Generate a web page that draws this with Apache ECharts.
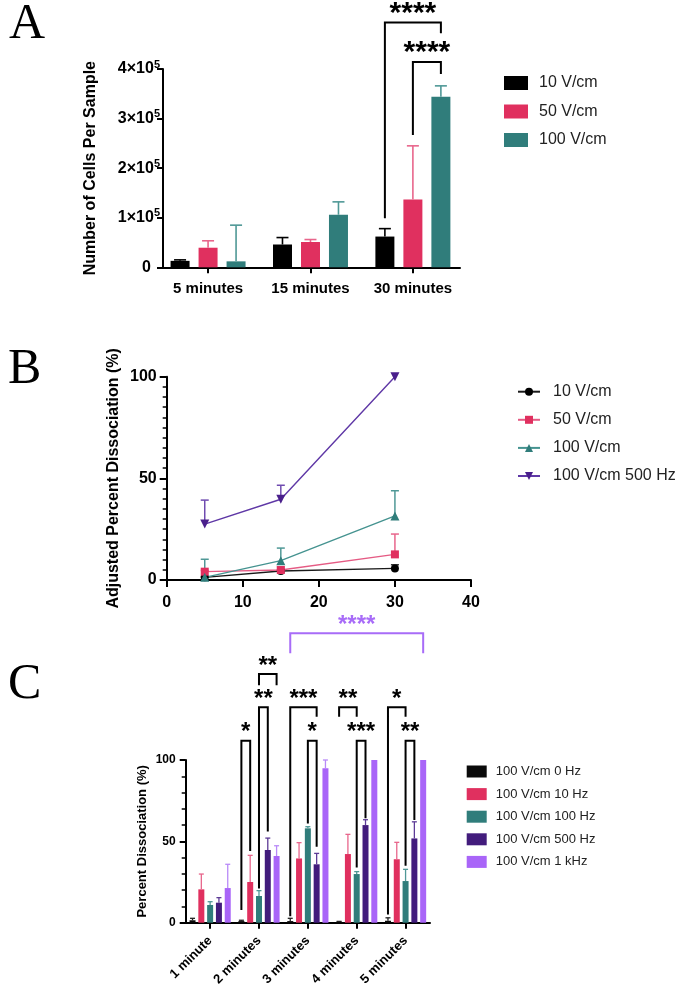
<!DOCTYPE html>
<html><head><meta charset="utf-8">
<script src="https://cdn.jsdelivr.net/npm/echarts@6/dist/echarts.min.js"></script>
<style>html,body{margin:0;padding:0;background:#fff}#c{width:685px;height:985px}</style>
</head><body><div id="c"></div>
<script>
// ================= Panel A data =================
const catA = ['5 minutes', '15 minutes', '30 minutes'];
const namesA = ['10 V/cm', '50 V/cm', '100 V/cm'];
const meanA_10 = [13000, 46000, 62000];
const sdA_10 = [2000, 14000, 16000];
const meanA_50 = [39500, 51000, 137000];
const sdA_50 = [14000, 5000, 108000];
const meanA_100 = [12000, 106000, 344000];
const sdA_100 = [73000, 26000, 22000];
// [catFrom, serFrom, catTo, serTo, bracketTop, leftLegEnd, rightLegEnd, label]
const sigA = [
  [2, 0, 2, 2, 494000, 99000, 472000, '****'],
  [2, 1, 2, 2, 414000, 267000, 390000, '****']
];

// ================= Panel B data =================
const xB = [5, 15, 30];
const namesB = ['10 V/cm', '50 V/cm', '100 V/cm', '100 V/cm 500 Hz'];
const meanB_10 = [1.3, 4.4, 5.7];
const sdB_10 = [0.4, 0.8, 1.8];
const meanB_50 = [4.1, 4.9, 12.6];
const sdB_50 = [0.6, 1.5, 10.0];
const meanB_100 = [1.3, 9.5, 31.5];
const sdB_100 = [8.9, 6.2, 12.4];
const meanB_500 = [27.5, 39.7, 100];
const sdB_500 = [11.8, 6.9, 0];

// ================= Panel C data =================
const catC = ['1 minute', '2 minutes', '3 minutes', '4 minutes', '5 minutes'];
const namesC = ['100 V/cm 0 Hz', '100 V/cm 10 Hz', '100 V/cm 100 Hz', '100 V/cm 500 Hz', '100 V/cm 1 kHz'];
const meanC_0 = [1.5, 1.0, 1.0, 0.6, 1.2];
const sdC_0 = [1.2, 0.5, 1.7, 0.2, 1.8];
const meanC_10 = [20.5, 25, 39.5, 42.2, 39];
const sdC_10 = [9.4, 16.4, 9.7, 12.1, 10.4];
const meanC_100 = [10.9, 16.4, 58, 29.9, 25.6];
const sdC_100 = [2.0, 3.3, 1.0, 1.5, 7.2];
const meanC_500 = [12.3, 44.7, 35.9, 60, 51.8];
const sdC_500 = [3.1, 7.3, 6.7, 3.3, 10.2];
const meanC_1k = [21.3, 41, 94.9, 100, 100];
const sdC_1k = [14.6, 6.3, 5.1, 0, 0];
const sigC = [
  [1, 0, 1, 1, 111.9, 7.8, 44, '*'],
  [1, 2, 1, 3, 132.4, 21, 56, '**'],
  [1, 2, 1, 4, 152.9, 146, 146, '**'],
  [2, 0, 2, 3, 132.4, 4, 126.6, '***'],
  [2, 2, 2, 3, 111.9, 61, 46.7, '*'],
  [3, 0, 3, 2, 132.4, 126.6, 126.6, '**'],
  [3, 2, 3, 3, 111.9, 34, 64.2, '***'],
  [4, 0, 4, 2, 132.4, 5, 126.6, '*'],
  [4, 2, 4, 3, 111.9, 35, 63.1, '**']
];
const sigCAll = [[2, 0, 4, 4, 177.9, 165.6, 165.6, '****']];

// ================= styles =================
const F = '"Liberation Sans", Arial, sans-serif';
const colA = ['#000000', '#e0305f', '#307d7b'];
const errColA = ['#000000', '#e8668c', '#4f9896'];
const colB = ['#000000', '#e0305f', '#307d7b', '#4a1f8c'];
const lineColB = ['#1a1a1a', '#e55b84', '#459390', '#5f38a6'];
const errColB = ['#333333', '#e8668c', '#4f9896', '#6f4bb0'];
const colC = ['#0a0a0a', '#e0305f', '#307d7b', '#421c7c', '#a965f8'];
const errColC = ['#222222', '#e8668c', '#4f9896', '#5d3b96', '#b98af8'];
const lavender = '#a86cf8';

const A_BW = 19, A_PITCH = 28;
const C_BW = 6, C_PITCH = 8.8;

function errRender(pitch, nSer, capW, colors, lw) {
  return function (params, api) {
    const cat = api.value(0), s = api.value(1), m = api.value(2), sd = api.value(3);
    if (!sd) return null;
    const base = api.coord([cat, m]);
    const top = api.coord([cat, m + sd]);
    const x = base[0] + (s - (nSer - 1) / 2) * pitch;
    return {
      type: 'group', children: [
        { type: 'line', shape: { x1: x, y1: base[1], x2: x, y2: top[1] }, style: { stroke: colors[s], lineWidth: lw } },
        { type: 'line', shape: { x1: x - capW / 2, y1: top[1], x2: x + capW / 2, y2: top[1] }, style: { stroke: colors[s], lineWidth: lw } }
      ]
    };
  };
}
function sigRender(list, pitch, nSer, color, fs, gap) {
  return function (params, api) {
    const d = list[params.dataIndex];
    const x1 = api.coord([d[0], 0])[0] + (d[1] - (nSer - 1) / 2) * pitch;
    const x2 = api.coord([d[2], 0])[0] + (d[3] - (nSer - 1) / 2) * pitch;
    const yt = api.coord([d[0], d[4]])[1];
    const yl = api.coord([d[0], d[5]])[1];
    const yr = api.coord([d[0], d[6]])[1];
    return {
      type: 'group', children: [
        { type: 'polyline', shape: { points: [[x1, yl], [x1, yt], [x2, yt], [x2, yr]] }, style: { stroke: color, lineWidth: 2, fill: null } },
        { type: 'text', x: (x1 + x2) / 2, y: yt - gap, style: { text: d[7], fill: color, font: 'bold ' + fs + 'px ' + F, align: 'center', verticalAlign: 'middle' } }
      ]
    };
  };
}
function errData(means, sds, s, xs) {
  return means.map((m, i) => [xs ? xs[i] : i, s, m, sds[i]]);
}

const axisLineStyle = { color: '#000', width: 2 };

const meansA = [meanA_10, meanA_50, meanA_100], sdsA = [sdA_10, sdA_50, sdA_100];
const meansB = [meanB_10, meanB_50, meanB_100, meanB_500], sdsB = [sdB_10, sdB_50, sdB_100, sdB_500];
const meansC = [meanC_0, meanC_10, meanC_100, meanC_500, meanC_1k], sdsC = [sdC_0, sdC_10, sdC_100, sdC_500, sdC_1k];
const symB = ['circle', 'rect', 'triangle', 'path://M0,0 L10,0 L5,9 Z'];
const symSizeB = [8, 8, 9, 9];

const series = [];
// ---- A bars ----
namesA.forEach((n, s) => {
  series.push({
    type: 'bar', name: 'A|' + n, xAxisIndex: 0, yAxisIndex: 0,
    data: meansA[s].map((v, i) => [i, v]), barWidth: A_BW, barGap: ((A_PITCH - A_BW) / A_BW * 100) + '%',
    itemStyle: { color: colA[s] }, z: 2
  });
});
series.push({
  type: 'custom', xAxisIndex: 0, yAxisIndex: 0, clip: false, z: 3,
  renderItem: errRender(A_PITCH, 3, 12, errColA, 1.6),
  encode: { x: 0, y: 2 },
  data: [].concat(...meansA.map((m, s) => errData(m, sdsA[s], s)))
});
series.push({
  type: 'custom', xAxisIndex: 0, yAxisIndex: 0, clip: false, z: 4,
  renderItem: sigRender(sigA, A_PITCH, 3, '#000', 30, 9),
  encode: { x: 0, y: 1 },
  data: sigA.map(d => [d[0], d[4]])
});
// ---- B lines ----
namesB.forEach((n, s) => {
  series.push({
    type: 'custom', xAxisIndex: 1, yAxisIndex: 1, clip: false, z: 2,
    renderItem: errRender(0, 1, 8, [errColB[s]], 1.5),
    encode: { x: 0, y: 2 },
    data: meansB[s].map((m, i) => [xB[i], 0, m, sdsB[s][i]])
  });
  series.push({
    type: 'line', name: 'B|' + n, xAxisIndex: 1, yAxisIndex: 1,
    data: meansB[s].map((v, i) => [xB[i], v]),
    symbol: symB[s], symbolSize: symSizeB[s], showSymbol: true,
    lineStyle: { color: lineColB[s], width: 1.4 },
    itemStyle: { color: colB[s] }, z: 3
  });
});
// ---- C bars ----
namesC.forEach((n, s) => {
  series.push({
    type: 'bar', name: 'C|' + n, xAxisIndex: 2, yAxisIndex: 2,
    data: meansC[s], barWidth: C_BW, barGap: ((C_PITCH - C_BW) / C_BW * 100) + '%',
    itemStyle: { color: colC[s] }, z: 2
  });
});
series.push({
  type: 'custom', xAxisIndex: 2, yAxisIndex: 2, clip: false, z: 3,
  renderItem: errRender(C_PITCH, 5, 5, errColC, 1.3),
  encode: { x: 0, y: 2 },
  data: [].concat(...meansC.map((m, s) => errData(m, sdsC[s], s)))
});
series.push({
  type: 'custom', xAxisIndex: 2, yAxisIndex: 2, clip: false, z: 4,
  renderItem: sigRender(sigC, C_PITCH, 5, '#000', 24, 8),
  encode: { x: 0, y: 1 },
  data: sigC.map(d => [d[0], d[4]])
});
series.push({
  type: 'custom', xAxisIndex: 2, yAxisIndex: 2, clip: false, z: 4,
  renderItem: sigRender(sigCAll, C_PITCH, 5, lavender, 24, 8),
  encode: { x: 0, y: 1 },
  data: sigCAll.map(d => [d[0], d[4]])
});

const legendFmt = n => n.split('|')[1];

const option = {
  animation: false,
  backgroundColor: '#fff',
  textStyle: { fontFamily: F },
  graphic: [
    { type: 'text', left: 9, top: 0, style: { text: 'A', font: '50px "Liberation Serif", serif', fill: '#000' } },
    { type: 'text', left: 8, top: 345, style: { text: 'B', font: '50px "Liberation Serif", serif', fill: '#000' } },
    { type: 'text', left: 8, top: 660, style: { text: 'C', font: '50px "Liberation Serif", serif', fill: '#000' } }
  ],
  grid: [
    { left: 163, top: 69, width: 297, height: 198.3, outerBoundsMode: 'none', containLabel: false },
    { left: 166.7, top: 376.7, width: 304.3, height: 203.3, outerBoundsMode: 'none', containLabel: false },
    { left: 185.7, top: 760, width: 244.3, height: 162.7, outerBoundsMode: 'none', containLabel: false }
  ],
  legend: [
    {
      orient: 'vertical', left: 504, top: 75, padding: 0, itemWidth: 24, itemHeight: 14, itemGap: 12.5, icon: 'rect',
      data: namesA.map(n => 'A|' + n), formatter: legendFmt,
      textStyle: { fontSize: 16, color: '#222', fontFamily: F, padding: [0, 0, 0, 6] }
    },
    {
      orient: 'vertical', left: 517, top: 383.7, padding: 0, itemWidth: 22, itemHeight: 10, itemGap: 12.1,
      data: namesB.map(n => 'B|' + n), formatter: legendFmt,
      textStyle: { fontSize: 16, color: '#222', fontFamily: F, padding: [0, 0, 0, 8] }
    },
    {
      orient: 'vertical', left: 466.7, top: 765, padding: 0, itemWidth: 20, itemHeight: 12, itemGap: 9.6, icon: 'rect',
      data: namesC.map(n => 'C|' + n), formatter: legendFmt,
      textStyle: { fontSize: 13, color: '#222', fontFamily: F, padding: [0, 0, 0, 4] }
    }
  ],
  xAxis: [
    {
      gridIndex: 0, type: 'value', min: -0.44, max: 2.46,
      axisLine: { show: true, onZero: false, lineStyle: axisLineStyle },
      axisTick: { show: true, length: 6, customValues: [0, 1, 2], lineStyle: { width: 2, color: '#000' } },
      axisLabel: { customValues: [0, 1, 2], formatter: v => catA[Math.round(v)], fontSize: 15, fontWeight: 'bold', color: '#000', margin: 14 },
      splitLine: { show: false }
    },
    {
      gridIndex: 1, type: 'value', min: 0, max: 40, interval: 10,
      axisLine: { show: true, onZero: false, lineStyle: axisLineStyle },
      axisTick: { show: true, length: 7, lineStyle: { width: 2, color: '#000' } },
      axisLabel: { fontSize: 16, fontWeight: 'bold', color: '#000', margin: 15 },
      splitLine: { show: false }
    },
    {
      gridIndex: 2, type: 'category', data: catC,
      axisLine: { show: true, onZero: false, lineStyle: axisLineStyle },
      axisTick: { show: true, alignWithLabel: true, length: 6, lineStyle: { width: 2, color: '#000' } },
      axisLabel: { rotate: 45, fontSize: 13, fontWeight: 'bold', color: '#000', margin: 16, interval: 0 },
      splitLine: { show: false }
    }
  ],
  yAxis: [
    {
      gridIndex: 0, type: 'value', min: 0, max: 400000, interval: 100000,
      name: 'Number of Cells Per Sample', nameLocation: 'middle', nameGap: 64,
      nameTextStyle: { fontSize: 16, fontWeight: 'bold', color: '#000' },
      axisLine: { show: true, onZero: false, lineStyle: axisLineStyle },
      axisTick: { show: true, length: 6, lineStyle: { width: 2, color: '#000' } },
      axisLabel: {
        margin: 3, color: '#000',
        formatter: v => v === 0 ? '{a|0}{p| }' : '{a|' + (v / 100000) + '×10}{s|5}',
        rich: {
          a: { fontSize: 16, fontWeight: 'bold', color: '#000', lineHeight: 20, fontFamily: F },
          s: { fontSize: 11, fontWeight: 'bold', color: '#000', verticalAlign: 'top', lineHeight: 11, fontFamily: F },
          p: { width: 9, fontSize: 10 }
        }
      },
      splitLine: { show: false }
    },
    {
      gridIndex: 1, type: 'value', min: 0, max: 100, interval: 50,
      name: 'Adjusted Percent Dissociation (%)', nameLocation: 'middle', nameGap: 45,
      nameTextStyle: { fontSize: 16, fontWeight: 'bold', color: '#000' },
      axisLine: { show: true, onZero: false, lineStyle: axisLineStyle },
      axisTick: { show: true, length: 7, lineStyle: { width: 2, color: '#000' } },
      minorTick: { show: true, splitNumber: 10, length: 4, lineStyle: { width: 1.5, color: '#000' } },
      axisLabel: { fontSize: 16, fontWeight: 'bold', color: '#000', margin: 10 },
      splitLine: { show: false }
    },
    {
      gridIndex: 2, type: 'value', min: 0, max: 100, interval: 50,
      name: 'Percent Dissociation (%)', nameLocation: 'middle', nameGap: 37,
      nameTextStyle: { fontSize: 13, fontWeight: 'bold', color: '#000' },
      axisLine: { show: true, onZero: false, lineStyle: axisLineStyle },
      axisTick: { show: true, length: 6, lineStyle: { width: 2, color: '#000' } },
      minorTick: { show: true, splitNumber: 5, length: 4, lineStyle: { width: 1.5, color: '#000' } },
      axisLabel: { fontSize: 12, fontWeight: 'bold', color: '#000', margin: 10 },
      splitLine: { show: false }
    }
  ],
  series: series
};
const chart = echarts.init(document.getElementById('c'), null, { renderer: 'canvas' });
chart.setOption(option);
</script>
</body></html>
